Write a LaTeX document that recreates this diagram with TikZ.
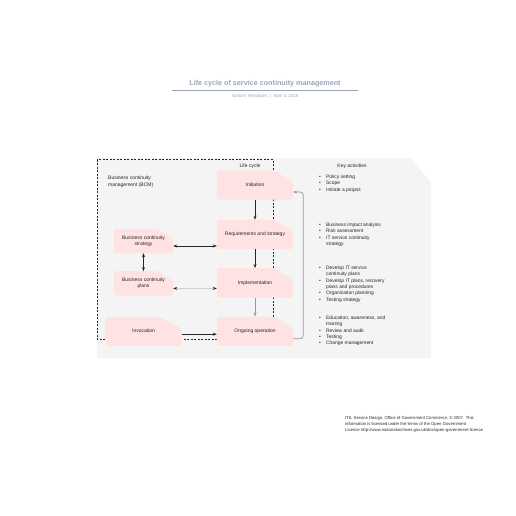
\documentclass[tikz,border=0pt]{standalone}
\usepackage{fontspec}
\setmainfont{Liberation Sans}
\usetikzlibrary{positioning, arrows.meta, calc, backgrounds}
\definecolor{panelgray}{HTML}{F4F4F4}
\definecolor{stagepink}{HTML}{FFE3E3}
\definecolor{titleblue}{HTML}{9AA3B8}
\definecolor{textdark}{HTML}{262626}
\definecolor{linkgray}{HTML}{9A9A9A}
\definecolor{linklight}{HTML}{CFCFCF}
\newcommand{\kb}{\makebox[7pt][l]{\textbullet}}
\newcommand{\kc}{\hspace*{7pt}}

\begin{document}
\begin{tikzpicture}[
    x=1pt, y=-1pt,
    every node/.style={font=\fontsize{5}{6.3}\selectfont, text=textdark},
    stage/.style={minimum width=76pt, minimum height=29pt, inner sep=1pt, align=center},
    side/.style={minimum width=59pt, minimum height=24pt, inner sep=1pt, align=center},
    keys/.style={anchor=north west, inner sep=0pt, align=left, font=\fontsize{4.9}{6.4}\selectfont},
    label/.style={inner sep=0pt, align=left},
    arr/.style={-{Stealth[length=4pt, width=3pt]}, line width=0.7pt, color=textdark},
    darr/.style={{Stealth[length=4pt, width=3pt]}-{Stealth[length=4pt, width=3pt]}, line width=0.7pt, color=textdark},
    garr/.style={-{Stealth[length=4pt, width=3pt]}, line width=0.7pt, color=linkgray},
    larr/.style={{Stealth[length=4pt, width=3pt, color=textdark]}-{Stealth[length=4pt, width=3pt, color=textdark]}, line width=1.8pt, color=linklight},
]
\useasboundingbox (0,0) rectangle (516,516);

% Title
\node[font=\bfseries\fontsize{7.2}{8}\selectfont, text=titleblue] (title) at (265,84) {Life cycle of service continuity management};
\draw[titleblue, line width=0.6pt] (172,90.5) -- (358,90.5);
\node[font=\fontsize{4.4}{5}\selectfont, text=titleblue] (sub) at (265,96) {Sysiam Templates \ | \ April 3, 2025};

% Life cycle stages
\node[stage] (init) at (255,185) {Initiation};
\node[stage, below=20pt of init] (req) {Requirements and strategy};
\node[stage, below=19pt of req] (impl) {Implementation};
\node[stage, below=19pt of impl] (ongo) {Ongoing operation};

% BCM side
\node[side] (strat) at (143.5,241) {Business continuity\\strategy};
\node[side, below=18pt of strat] (plans) {Business continuity\\plans};
\node[stage, left=35pt of ongo] (invoc) {Invocation};

% Labels
\node[label, anchor=north west] (bcm) at (108,176) {Business continuity\\management (BCM)};
\node[label] (life) at (250,166) {Life cycle};
\node[label] (keyhead) at (352,166) {Key activities};

% Key activities
\node[keys] (k1) at (319,174.5) {\kb Policy setting\\\kb Scope\\\kb Initiate a project};
\node[keys] (k2) at (319,222.5) {\kb Business impact analysis\\\kb Risk assessment\\\kb IT service continuity\\\kc strategy};
\node[keys] (k3) at (319,265.5) {\kb Develop IT service\\\kc continuity plans\\\kb Develop IT plans, recovery\\\kc plans and procedures\\\kb Organization planning\\\kb Testing strategy};
\node[keys] (k4) at (319,315.5) {\kb Education, awareness, and\\\kc training\\\kb Review and audit\\\kb Testing\\\kb Change management};

% Source note
\node[label, anchor=north west, font=\fontsize{4.25}{6}\selectfont] (note) at (345,416) {ITIL Service Design, Office of Government Commerce, \textcopyright{} 2007. This\\information is licensed under the terms of the Open Government\\Licence http://www.nationalarchives.gov.uk/doc/open-government-licence};

% Panels and shapes
\begin{scope}[on background layer]
\fill[panelgray] (97,158) -- (410,158) -- (431,182) -- (431,358) -- (97,358) -- cycle;
\draw[textdark, line width=0.6pt, dash pattern=on 2pt off 1.5pt] (97,159.5) rectangle (273,339);
\foreach \n/\cx/\cy in {init/19/12, req/19/12, impl/19/12, ongo/19/12, strat/15/10, plans/15/10, invoc/24/12}
    \fill[stagepink, rounded corners=3pt] (\n.south west) -- (\n.north west) -- ([xshift=-\cx pt]\n.north east) -- ([yshift=-\cy pt]\n.north east) -- (\n.south east) -- cycle;
\end{scope}

% Connectors
\draw[arr] (init.south) -- (req.north);
\draw[arr] (req.south) -- (impl.north);
\draw[garr] (impl.south) -- (ongo.north);
\draw[darr] ([yshift=-5pt]strat.east) -- ([yshift=-5pt]strat.east -| req.west);
\draw[darr] (strat.south) -- (plans.north);
\draw[larr] ([yshift=-5pt]plans.east) -- ([yshift=-5pt]plans.east -| impl.west);
\draw[arr] ([yshift=-3pt]invoc.east) -- ([yshift=-3pt]invoc.east -| ongo.west);
\draw[garr, rounded corners=3pt] ([yshift=-7.5pt]ongo.east) -- ++(10,0) |- ([yshift=-7pt]init.east);

\end{tikzpicture}
\end{document}
